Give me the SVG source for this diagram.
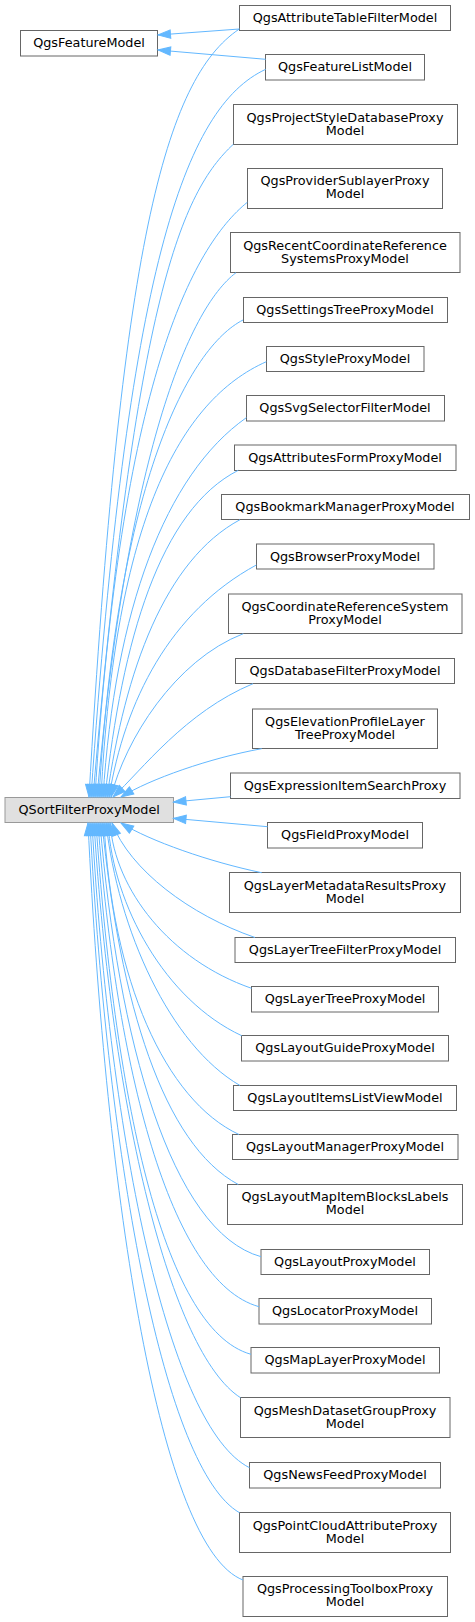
<svg xmlns="http://www.w3.org/2000/svg" width="475" height="1622" viewBox="0 0 475 1622">
<style>
.n rect{fill:#ffffff;stroke:#666666;stroke-width:1}
.root rect{fill:#e0e0e0;stroke:#999999;stroke-width:1}
text{font-family:"DejaVu Sans","Liberation Sans",sans-serif;font-size:12.8px;fill:#000000;text-anchor:middle}
.e path{fill:none;stroke:#63b8ff;stroke-width:1;marker-start:url(#ah)}
</style>
<defs>
<marker id="ah" markerUnits="userSpaceOnUse" markerWidth="14" markerHeight="10" refX="13" refY="4.7" orient="auto-start-reverse" overflow="visible">
<path d="M0.5,0.5 L13,4.7 L0.5,8.9 Z" fill="#63b8ff" stroke="#63b8ff" stroke-width="1"/>
</marker>
</defs>
<rect width="475" height="1622" fill="#ffffff"/>
<g id="nodes">
<g id="QgsFeatureModel" class="n"><rect x="20.5" y="30.5" width="137" height="25.5"/><text x="89" y="47.3">QgsFeatureModel</text></g>
<g id="QSortFilterProxyModel" class="root"><rect x="5" y="797.5" width="168.5" height="25"/><text x="89.2" y="814">QSortFilterProxyModel</text></g>
<g id="QgsAttributeTableFilterModel" class="n"><rect x="239.5" y="5.5" width="211" height="25"/><text x="345" y="21.9">QgsAttributeTableFilterModel</text></g>
<g id="QgsFeatureListModel" class="n"><rect x="265.5" y="54.5" width="159" height="25.5"/><text x="345" y="71.2">QgsFeatureListModel</text></g>
<g id="QgsProjectStyleDatabaseProxyModel" class="n"><rect x="233.5" y="104.5" width="224" height="40"/><text x="345" y="121.5">QgsProjectStyleDatabaseProxy</text><text x="345" y="134.5">Model</text></g>
<g id="QgsProviderSublayerProxyModel" class="n"><rect x="247.5" y="168.5" width="195" height="40"/><text x="345" y="185.3">QgsProviderSublayerProxy</text><text x="345" y="198.3">Model</text></g>
<g id="QgsRecentCoordinateReferenceSystemsProxyModel" class="n"><rect x="230.5" y="232.5" width="229.5" height="40"/><text x="345" y="249.7">QgsRecentCoordinateReference</text><text x="345" y="262.7">SystemsProxyModel</text></g>
<g id="QgsSettingsTreeProxyModel" class="n"><rect x="243.5" y="297.5" width="204" height="25"/><text x="345" y="314">QgsSettingsTreeProxyModel</text></g>
<g id="QgsStyleProxyModel" class="n"><rect x="266.5" y="346.5" width="157.5" height="25"/><text x="345" y="363.2">QgsStyleProxyModel</text></g>
<g id="QgsSvgSelectorFilterModel" class="n"><rect x="246.5" y="395.5" width="198" height="25.5"/><text x="345" y="412.4">QgsSvgSelectorFilterModel</text></g>
<g id="QgsAttributesFormProxyModel" class="n"><rect x="234.5" y="445" width="221.5" height="25.5"/><text x="345" y="461.7">QgsAttributesFormProxyModel</text></g>
<g id="QgsBookmarkManagerProxyModel" class="n"><rect x="221.5" y="494.5" width="248" height="25"/><text x="345" y="511">QgsBookmarkManagerProxyModel</text></g>
<g id="QgsBrowserProxyModel" class="n"><rect x="256.5" y="544" width="177.5" height="25"/><text x="345" y="560.5">QgsBrowserProxyModel</text></g>
<g id="QgsCoordinateReferenceSystemProxyModel" class="n"><rect x="228.5" y="594" width="233.5" height="39.5"/><text x="345" y="610.9">QgsCoordinateReferenceSystem</text><text x="345" y="623.9">ProxyModel</text></g>
<g id="QgsDatabaseFilterProxyModel" class="n"><rect x="235.5" y="658.5" width="219" height="25"/><text x="345" y="675.2">QgsDatabaseFilterProxyModel</text></g>
<g id="QgsElevationProfileLayerTreeProxyModel" class="n"><rect x="252.5" y="709" width="185" height="39.5"/><text x="345" y="725.9">QgsElevationProfileLayer</text><text x="345" y="738.9">TreeProxyModel</text></g>
<g id="QgsExpressionItemSearchProxy" class="n"><rect x="230.5" y="773" width="229.5" height="25.5"/><text x="345" y="789.9">QgsExpressionItemSearchProxy</text></g>
<g id="QgsFieldProxyModel" class="n"><rect x="267.5" y="822.5" width="155" height="25.5"/><text x="345" y="839.2">QgsFieldProxyModel</text></g>
<g id="QgsLayerMetadataResultsProxyModel" class="n"><rect x="229.5" y="872.5" width="231" height="40"/><text x="345" y="889.5">QgsLayerMetadataResultsProxy</text><text x="345" y="902.5">Model</text></g>
<g id="QgsLayerTreeFilterProxyModel" class="n"><rect x="235" y="937.5" width="220.5" height="25"/><text x="345" y="954">QgsLayerTreeFilterProxyModel</text></g>
<g id="QgsLayerTreeProxyModel" class="n"><rect x="251.5" y="986.5" width="187" height="25.5"/><text x="345" y="1003.4">QgsLayerTreeProxyModel</text></g>
<g id="QgsLayoutGuideProxyModel" class="n"><rect x="241.5" y="1035.5" width="207" height="25.5"/><text x="345" y="1052.4">QgsLayoutGuideProxyModel</text></g>
<g id="QgsLayoutItemsListViewModel" class="n"><rect x="233.5" y="1085.5" width="223" height="25"/><text x="345" y="1102">QgsLayoutItemsListViewModel</text></g>
<g id="QgsLayoutManagerProxyModel" class="n"><rect x="232.5" y="1134.5" width="225.5" height="25"/><text x="345" y="1151">QgsLayoutManagerProxyModel</text></g>
<g id="QgsLayoutMapItemBlocksLabelsModel" class="n"><rect x="227.5" y="1184.5" width="235" height="40"/><text x="345" y="1201.3">QgsLayoutMapItemBlocksLabels</text><text x="345" y="1214.3">Model</text></g>
<g id="QgsLayoutProxyModel" class="n"><rect x="261" y="1249.5" width="168.5" height="25"/><text x="345" y="1266">QgsLayoutProxyModel</text></g>
<g id="QgsLocatorProxyModel" class="n"><rect x="259" y="1298.5" width="172.5" height="25.5"/><text x="345" y="1315.4">QgsLocatorProxyModel</text></g>
<g id="QgsMapLayerProxyModel" class="n"><rect x="251" y="1347.5" width="188.5" height="25.5"/><text x="345" y="1364.4">QgsMapLayerProxyModel</text></g>
<g id="QgsMeshDatasetGroupProxyModel" class="n"><rect x="240.5" y="1397.5" width="209.5" height="40"/><text x="345" y="1414.5">QgsMeshDatasetGroupProxy</text><text x="345" y="1427.5">Model</text></g>
<g id="QgsNewsFeedProxyModel" class="n"><rect x="249.5" y="1462.5" width="191" height="25.5"/><text x="345" y="1479.4">QgsNewsFeedProxyModel</text></g>
<g id="QgsPointCloudAttributeProxyModel" class="n"><rect x="239.5" y="1512.5" width="211" height="40"/><text x="345" y="1529.7">QgsPointCloudAttributeProxy</text><text x="345" y="1542.7">Model</text></g>
<g id="QgsProcessingToolboxProxyModel" class="n"><rect x="243" y="1576.5" width="204.5" height="40"/><text x="345" y="1593.3">QgsProcessingToolboxProxy</text><text x="345" y="1606.3">Model</text></g>
</g>
<g id="edges" class="e">
<path d="M158,35 L239.3,29"/>
<path d="M158,50 L265.7,59.3"/>
<path d="M89,797 C120.5,245.4 164.7,79.3 239.3,29"/>
<path d="M91,797 C127.1,270.6 184.1,107.3 265.7,69.3"/>
<path d="M93,797 C135.8,294.2 182.1,192 233.3,144.3"/>
<path d="M95,797 C120.2,380.6 192.9,246.3 247.3,202.3"/>
<path d="M97,797 C127.6,454.6 188.1,308.8 236,272.7"/>
<path d="M99,797 C117.3,480.5 189.5,347.2 243,320"/>
<path d="M101,797 C115,520 180,400 266.3,361.7"/>
<path d="M103,797 C115,610 165,475 246.3,417.7"/>
<path d="M105,797 C122,640 160,510 238.3,470.3"/>
<path d="M107,797 C125,670 165,560 240,519.7"/>
<path d="M109,797 C125,700 170,612 256.3,565"/>
<path d="M111,797 C125,740 175,660 243.3,633.7"/>
<path d="M113,797 C142,770 185,712 253,683.7"/>
<path d="M121,797 C150,779 210,758 261.7,748.7"/>
<path d="M173.5,802 L230.5,796.7"/>
<path d="M173.5,818.3 L267.5,826.7"/>
<path d="M121,823 C150,841 210,862 261.7,872.7"/>
<path d="M112,823 C130,870 190,915 255,937.5"/>
<path d="M110,823 C115,890 170,960 251.5,988.3"/>
<path d="M108,823 C113,905 165,1000 241.7,1035.7"/>
<path d="M106,823 C118,930 170,1045 240,1085.5"/>
<path d="M104,823 C112,980 165,1100 239,1134.5"/>
<path d="M102,823 C120,1003.7 163.3,1144.3 238.3,1184.5"/>
<path d="M100,823 C118,1039.9 171,1231.7 261,1256.7"/>
<path d="M98,823 C116,1064.9 169,1281.7 259,1306.7"/>
<path d="M96,823 C114,1088.7 161,1329.3 251,1354.3"/>
<path d="M94,823 C112,1110.4 170.5,1352.7 240.5,1397.7"/>
<path d="M92,823 C110,1145.4 169.7,1427.7 249.5,1467.7"/>
<path d="M90,823 C108,1167.9 165,1470 239.5,1512.7"/>
<path d="M88,823 C106,1201.5 160,1548 243,1580"/>
</g>
</svg>
